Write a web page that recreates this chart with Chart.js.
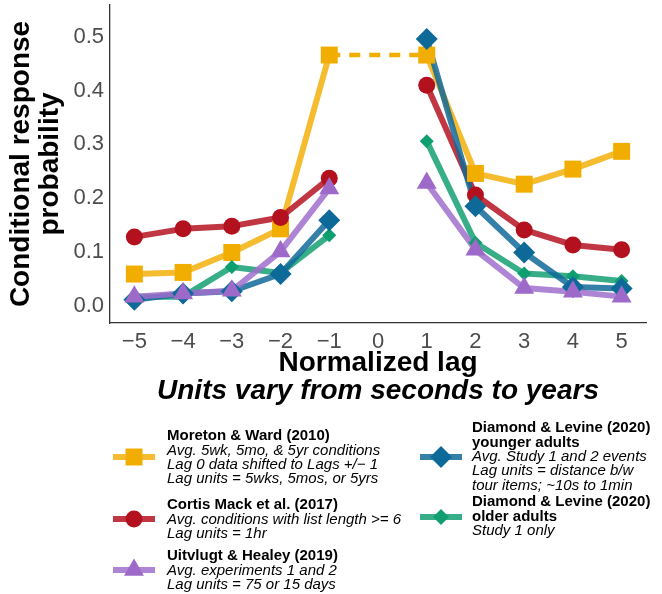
<!DOCTYPE html>
<html>
<head>
<meta charset="utf-8">
<script src="https://cdn.jsdelivr.net/npm/chart.js@4/dist/chart.umd.min.js"></script>
<style>
  html, body { margin: 0; padding: 0; background: #ffffff; }
  canvas { display: block; }
</style>
</head>
<body>
<canvas id="crp" width="662" height="594"></canvas>
<script>
// Lag positions (0 has no data for any study)
const lags = [-5, -4, -3, -2, -1, 0, 1, 2, 3, 4, 5];
const yTickValues = [0, 0.1, 0.2, 0.3, 0.4, 0.5];

// Conditional response probability per lag
const moretonWard    = [0.059, 0.062, 0.099, 0.143, 0.466, null, 0.466, 0.246, 0.226, 0.254, 0.287];
const cortisMack     = [0.128, 0.143, 0.148, 0.164, 0.237, null, 0.410, 0.206, 0.141, 0.113, 0.104];
const uitvlugtHealey = [0.017, 0.023, 0.028, 0.101, 0.218, null, 0.228, 0.104, 0.033, 0.026, 0.017];
const diamondYounger = [0.011, 0.023, 0.027, 0.059, 0.159, null, 0.496, 0.185, 0.099, 0.035, 0.032];
const diamondOlder   = [0.017, 0.017, 0.072, 0.061, 0.131, null, 0.306, 0.117, 0.060, 0.055, 0.046];

// Legend text
const legendMoreton  = ['Moreton & Ward (2010)'];
const noteMoreton    = ['Avg. 5wk, 5mo, & 5yr conditions', 'Lag 0 data shifted to Lags +/\u2212 1', 'Lag units = 5wks, 5mos, or 5yrs'];
const legendCortis   = ['Cortis Mack et al. (2017)'];
const noteCortis     = ['Avg. conditions with list length >= 6', 'Lag units = 1hr'];
const legendUitvlugt = ['Uitvlugt & Healey (2019)'];
const noteUitvlugt   = ['Avg. experiments 1 and 2', 'Lag units = 75 or 15 days'];
const legendYounger  = ['Diamond & Levine (2020)', 'younger adults'];
const noteYounger    = ['Avg. Study 1 and 2 events', 'Lag units = distance b/w', 'tour items; ~10s to 1min'];
const legendOlder    = ['Diamond & Levine (2020)', 'older adults'];
const noteOlder      = ['Study 1 only'];

// Appearance of each study (listed bottom-to-top in drawing order)
const studies = [
  { values: moretonWard,    fill: '#F2AE00', line: 'rgba(243,176,10,0.85)', pointStyle: 'rect',     radius: 12,
    legendTitle: legendMoreton, legendNote: noteMoreton, key: [134, 457], text: [167, 436] },
  { values: cortisMack,     fill: '#B3111E', line: 'rgba(181,20,34,0.85)',  pointStyle: 'circle',   radius: 8.5,
    legendTitle: legendCortis, legendNote: noteCortis, key: [134, 519], text: [167, 505] },
  { values: diamondOlder,   fill: '#0E9E6F', line: 'rgba(20,160,115,0.85)', pointStyle: 'rectRot',  radius: 7, legendRadius: 8,
    legendTitle: legendOlder, legendNote: noteOlder, key: [441, 517], text: [472, 502] },
  { values: diamondYounger, fill: '#0D6A98', line: 'rgba(16,106,154,0.85)', pointStyle: 'rectRot',  radius: 11,
    legendTitle: legendYounger, legendNote: noteYounger, key: [441, 457], text: [472, 428] },
  { values: uitvlugtHealey, fill: '#9D6AC9', line: 'rgba(160,110,204,0.85)', pointStyle: 'triangle', radius: 11.5,
    legendTitle: legendUitvlugt, legendNote: noteUitvlugt, key: [134, 570], text: [167, 556] }
];

const toPoints = vals => lags.map((x, i) => ({ x: x, y: vals[i] }));

const datasets = [];

// Dashed bridge across lag 0 for Moreton & Ward (lag 0 data shifted to +/-1)
const iNeg1 = lags.indexOf(-1), iPos1 = lags.indexOf(1);
datasets.push({
  data: [{ x: lags[iNeg1], y: moretonWard[iNeg1] }, { x: lags[iPos1], y: moretonWard[iPos1] }],
  showLine: true,
  borderColor: '#F2AE00',
  borderWidth: 4.5,
  borderDash: [11, 9],
  borderCapStyle: 'butt',
  pointRadius: 0,
  pointHoverRadius: 0,
  clip: false,
  order: 200
});

// All lines first, then all markers on top of them
studies.forEach((s, i) => {
  datasets.push({
    data: toPoints(s.values),
    showLine: true,
    borderColor: s.line,
    borderWidth: 6,
    borderCapStyle: 'butt',
    borderJoinStyle: 'round',
    pointRadius: 0,
    pointHoverRadius: 0,
    spanGaps: false,
    clip: false,
    order: 100 - i
  });
});
studies.forEach((s, i) => {
  datasets.push({
    data: toPoints(s.values),
    showLine: false,
    pointStyle: s.pointStyle,
    pointRadius: s.radius,
    pointHoverRadius: s.radius,
    pointBackgroundColor: s.fill,
    pointBorderWidth: 0,
    clip: false,
    order: 50 - i
  });
});

const FONT = '"Liberation Sans", Arial, Helvetica, sans-serif';

// Subtitle under the x axis title and the custom two-column legend
const notesPlugin = {
  id: 'notes',
  afterDraw(chart) {
    const ctx = chart.ctx;
    const area = chart.chartArea;
    ctx.save();
    ctx.fillStyle = '#000000';
    ctx.textAlign = 'center';
    ctx.textBaseline = 'middle';
    ctx.font = 'italic bold 28px ' + FONT;
    ctx.fillText('Units vary from seconds to years', (area.left + area.right) / 2, 391);

    const step = 14.4;
    studies.forEach(s => {
      const [kx, ky] = s.key;
      ctx.strokeStyle = s.line;
      ctx.lineWidth = 6;
      ctx.lineCap = 'butt';
      ctx.beginPath();
      ctx.moveTo(kx - 21, ky);
      ctx.lineTo(kx + 21, ky);
      ctx.stroke();
      ctx.fillStyle = s.fill;
      Chart.helpers.drawPoint(ctx, {
        pointStyle: s.pointStyle, radius: s.legendRadius || s.radius, rotation: 0, borderWidth: 0
      }, kx, ky);

      let [tx, ty] = s.text;
      ctx.fillStyle = '#000000';
      ctx.textAlign = 'left';
      ctx.textBaseline = 'middle';
      ctx.font = 'bold 15px ' + FONT;
      s.legendTitle.forEach(t => { ctx.fillText(t, tx, ty); ty += step; });
      ctx.font = 'italic 15px ' + FONT;
      s.legendNote.forEach(t => { ctx.fillText(t, tx, ty); ty += step; });
    });
    ctx.restore();
  }
};

new Chart(document.getElementById('crp'), {
  type: 'scatter',
  data: { datasets: datasets },
  options: {
    responsive: false,
    animation: false,
    devicePixelRatio: 1,
    layout: { autoPadding: false, padding: { top: 5, right: 16, bottom: 213, left: 0 } },
    plugins: { legend: { display: false }, tooltip: { enabled: false } },
    scales: {
      x: {
        type: 'linear',
        min: -5.5,
        max: 5.5,
        afterFit: sc => { sc.height = 58; sc.paddingLeft = 0; sc.paddingRight = 0; },
        afterBuildTicks: sc => { sc.ticks = lags.map(v => ({ value: v })); },
        grid: { display: false, drawTicks: false },
        border: { display: true, color: '#333333', width: 1.3 },
        ticks: {
          color: '#4D4D4D',
          font: { family: FONT, size: 22 },
          padding: 6,
          maxRotation: 0,
          autoSkip: false,
          callback: v => v < 0 ? '\u2212' + Math.abs(v) : String(v)
        },
        title: {
          display: true,
          text: 'Normalized lag',
          color: '#000000',
          font: { family: FONT, size: 28, weight: 'bold', lineHeight: 1.0 },
          padding: { top: 0, bottom: 4 }
        }
      },
      y: {
        type: 'linear',
        min: -0.032,
        max: 0.559,
        afterFit: sc => { sc.width = 110; sc.paddingTop = 0; sc.paddingBottom = 0; },
        afterBuildTicks: sc => { sc.ticks = yTickValues.map(v => ({ value: v })); },
        grid: { display: false, drawTicks: false },
        border: { display: true, color: '#333333', width: 1.3 },
        ticks: {
          color: '#4D4D4D',
          font: { family: FONT, size: 22 },
          padding: 6,
          callback: v => Number(v).toFixed(1)
        },
        title: {
          display: true,
          text: ['Conditional response', 'probability'],
          color: '#000000',
          font: { family: FONT, size: 28, weight: 'bold', lineHeight: 1.03 },
          padding: { top: 7, bottom: 0 }
        }
      }
    }
  },
  plugins: [notesPlugin]
});
</script>
</body>
</html>
